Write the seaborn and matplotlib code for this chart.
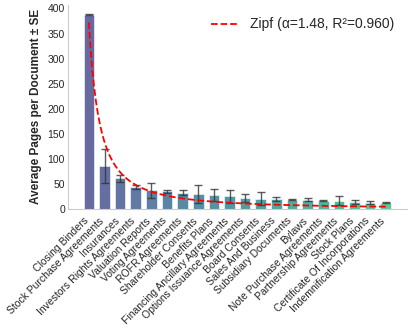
import matplotlib
matplotlib.use("Agg")
import matplotlib.pyplot as plt
import numpy as np
import pandas as pd
import seaborn as sns

# document categories, ranked by average length
categories = ["Closing Binders", "Stock Purchase Agreements", "Insurances",
              "Investors Rights Agreements", "Valuation Reports", "Voting Agreements",
              "ROFR Agreements", "Shareholder Consents", "Benefits Plans",
              "Financing Ancillary Agreements", "Options Issuance Agreements",
              "Board Consents", "Sales And Business", "Subsidiary Documents", "Bylaws",
              "Note Purchase Agreements", "Partnership Agreements", "Stock Plans",
              "Certificate Of Incorporations", "Indemnification Agreements"]
avg_pages = [387, 86, 61, 43.5, 37, 35.7, 32.4, 30.5, 28.5, 25.4,
             21.5, 20, 20, 18, 18, 16.2, 16.2, 13, 12.3, 12.3]
se_pages = [1, 34, 7, 3.5, 15, 3, 5, 18, 12, 13,
            8, 13, 4, 1, 3, 1, 9, 4, 3, 1]

# Zipf fit values shown in the legend
zipf_alpha = 1.48
zipf_r2 = 0.960

df = pd.DataFrame({"category": categories, "pages": avg_pages, "se": se_pages})

sns.set_style("whitegrid")
plt.rcParams["font.family"] = ["Liberation Sans", "DejaVu Sans"]

fig = plt.figure(figsize=(4.11, 3.29), dpi=100)
ax = fig.add_axes([0.165, 0.365, 0.825, 0.62])

colors = [plt.cm.viridis(v) for v in np.linspace(0.2, 0.68, len(categories))]
sns.barplot(data=df, x="category", y="pages", hue="category", palette=colors,
            legend=False, alpha=0.8, saturation=1, width=0.68, edgecolor="white",
            linewidth=0.5, ax=ax)
ax.errorbar(np.arange(len(df)), df["pages"], yerr=df["se"], fmt="none",
            ecolor="#333333", elinewidth=1, capsize=3, capthick=1, alpha=0.8)

# Zipf curve: scale fitted by least squares with the exponent fixed
ranks = np.arange(1, len(df) + 1)
basis = ranks ** (-zipf_alpha)
scale = np.sum(df["pages"].values * basis) / np.sum(basis ** 2)
r_fine = np.linspace(1, len(df), 300)
ax.plot(r_fine - 1, scale * r_fine ** (-zipf_alpha), color="red", ls="--", lw=1.3,
        label=f"Zipf (α={zipf_alpha:.2f}, R²={zipf_r2:.3f})")

ax.grid(False)
sns.despine(ax=ax)
for s in ["left", "bottom"]:
    ax.spines[s].set_color("#cccccc")
ax.set_xlim(-1.35, len(df) - 1 + 1.35)
ax.set_ylim(0, 407)
ax.set_xlabel("")
ax.set_ylabel("Average Pages per Document ± SE", fontsize=8.5, fontweight="bold")
ax.tick_params(axis="y", labelsize=7.5, pad=2, length=0)
ax.tick_params(axis="x", labelsize=7.5, pad=9, length=0)
for lab in ax.get_xticklabels():
    lab.set_rotation(45)
    lab.set_ha("right")
    lab.set_va("baseline")
    lab.set_rotation_mode("anchor")
ax.legend(loc="upper right", frameon=False, fontsize=10, handlelength=2,
          bbox_to_anchor=(1.0, 1.0))

fig.savefig("out.png", dpi=100)
